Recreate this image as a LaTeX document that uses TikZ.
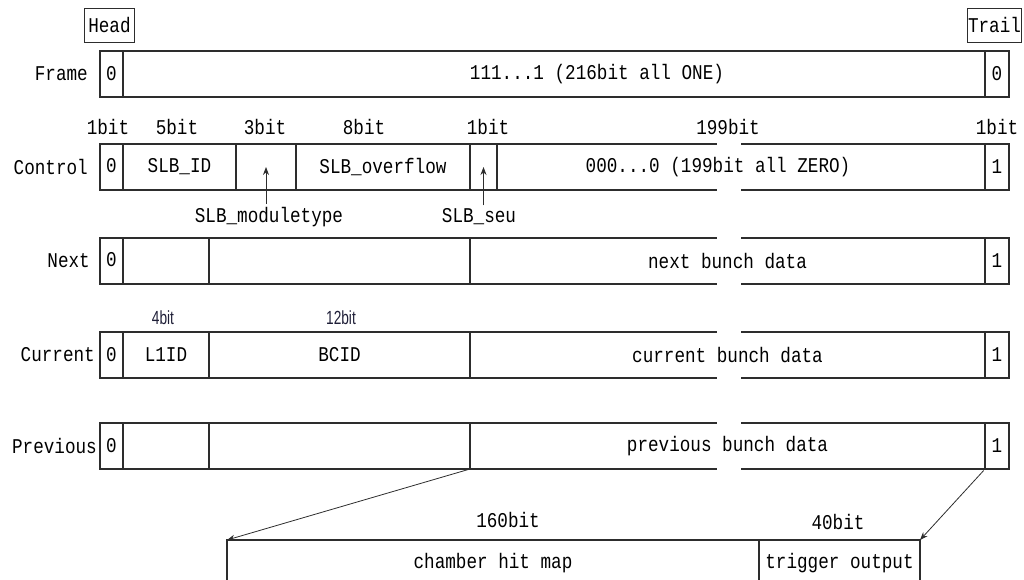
\documentclass[tikz,border=0pt]{standalone}
\usepackage{fontspec}
\setmainfont{Liberation Mono}[FakeStretch=0.84]
\newfontfamily\bitsans{Liberation Sans}[FakeStretch=0.72]
\usepackage{xcolor}
\usetikzlibrary{positioning, arrows.meta}

\definecolor{lineink}{RGB}{45,45,45}
\definecolor{bitink}{RGB}{30,30,55}

\tikzset{
  cell/.style={draw=lineink, line width=1.2pt, anchor=north west, inner sep=0pt, outer sep=0pt, minimum height=46pt},
  marker/.style={draw=lineink, line width=0.9pt, anchor=north west, inner sep=0pt, minimum height=34pt},
  rowlabel/.style={inner sep=0pt},
  bitlabel/.style={inner sep=0pt},
  gapcut/.style={fill=white, draw=none},
  pointer/.style={-{Stealth[length=8pt,width=6pt]}, line width=0.8pt, draw=lineink},
}

\begin{document}
\begin{tikzpicture}[x=1pt, y=-1pt, font=\fontsize{21}{24}\selectfont]
    \useasboundingbox (0,0) rectangle (1024,580);

    % head and trail
    \node[marker, minimum width=50pt] (head) at (84,8) {Head};
    \node[marker, minimum width=54pt] (trail) at (967,8) {Trail};

    % frame
    \node[cell, minimum width=23pt] (f0) at (100,51) {0};
    \node[cell, minimum width=862pt] (f1) at (123,51) {};
    \node[cell, minimum width=24pt] (f2) at (985,51) {0};
    \node (ftxt) at (597,74) {111...1 (216bit all ONE)};
    \node[rowlabel, left=12pt of f0] (lframe) {Frame};

    % control
    \node[cell, minimum width=23pt] (c0) at (100,144) {\raisebox{4pt}{0}};
    \node[cell, minimum width=113pt] (c1) at (123,144) {SLB\_ID};
    \node[cell, minimum width=60pt] (c2) at (236,144) {};
    \node[cell, minimum width=174pt] (c3) at (296,144) {SLB\_overflow};
    \node[cell, minimum width=27pt] (c4) at (470,144) {};
    \node[cell, minimum width=488pt] (c5) at (497,144) {};
    \node[cell, minimum width=24pt] (c6) at (985,144) {1};
    \node[rowlabel, left=12pt of c0] (lcontrol) {Control};

    % next
    \node[cell, minimum width=23pt] (n0) at (100,238) {\raisebox{4pt}{0}};
    \node[cell, minimum width=86pt] (n1) at (123,238) {};
    \node[cell, minimum width=261pt] (n2) at (209,238) {};
    \node[cell, minimum width=515pt] (n3) at (470,238) {next bunch data};
    \node[cell, minimum width=24pt] (n4) at (985,238) {1};
    \node[rowlabel, left=10pt of n0] (lnext) {Next};

    % current
    \node[cell, minimum width=23pt] (k0) at (100,332) {0};
    \node[cell, minimum width=86pt] (k1) at (123,332) {L1ID};
    \node[cell, minimum width=261pt] (k2) at (209,332) {BCID};
    \node[cell, minimum width=515pt] (k3) at (470,332) {current bunch data};
    \node[cell, minimum width=24pt] (k4) at (985,332) {1};
    \node[rowlabel, left=5pt of k0] (lcurrent) {Current};

    % previous
    \node[cell, minimum width=23pt] (p0) at (100,423) {0};
    \node[cell, minimum width=86pt] (p1) at (123,423) {};
    \node[cell, minimum width=261pt] (p2) at (209,423) {};
    \node[cell, minimum width=515pt] (p3) at (470,423) {previous bunch data};
    \node[cell, minimum width=24pt] (p4) at (985,423) {1};
    \node[rowlabel, left=3pt of p0] (lprevious) {Previous};

    % break in the long fields
    \foreach \y in {144,238,332,423} {
        \fill[gapcut] (717,\y-3) rectangle (741,\y+3);
        \fill[gapcut] (717,\y+43) rectangle (741,\y+49);
    }
    \node (ctxt) at (718,167) {000...0 (199bit all ZERO)};

    % bit widths of the control word
    \foreach \x/\t [count=\i] in {108/1bit, 177/5bit, 265/3bit, 364/8bit, 488/1bit, 728/199bit, 997/1bit}
        \node[bitlabel] (cb\i) at (\x,127) {\t};

    \node (mtype) at (269,217) {SLB\_moduletype};
    \node (seu) at (479,217) {SLB\_seu};
    \draw[pointer] (c2.center |- mtype.north) -- (c2.center);
    \draw[pointer] (c4.center |- seu.north) -- (c4.center);

    % bit widths of the current word
    \node[bitlabel, text=bitink, font=\bitsans\fontsize{19}{21}\selectfont] (kb1) at (163,318) {4bit};
    \node[bitlabel, text=bitink, font=\bitsans\fontsize{19}{21}\selectfont] (kb2) at (341,318) {12bit};

    % bunch data layout
    \node[cell, minimum width=532pt] (hitmap) at (227,540) {chamber hit map};
    \node[cell, minimum width=161pt] (trig) at (759,540) {trigger output};
    \node[bitlabel] (hb) at (508,520) {160bit};
    \node[bitlabel] (tb) at (838,522) {40bit};

    \draw[pointer, shorten <=1pt] (p2.south east) -- (hitmap.north west);
    \draw[pointer, shorten <=2pt] (p4.south west) -- (trig.north east);
\end{tikzpicture}
\end{document}
